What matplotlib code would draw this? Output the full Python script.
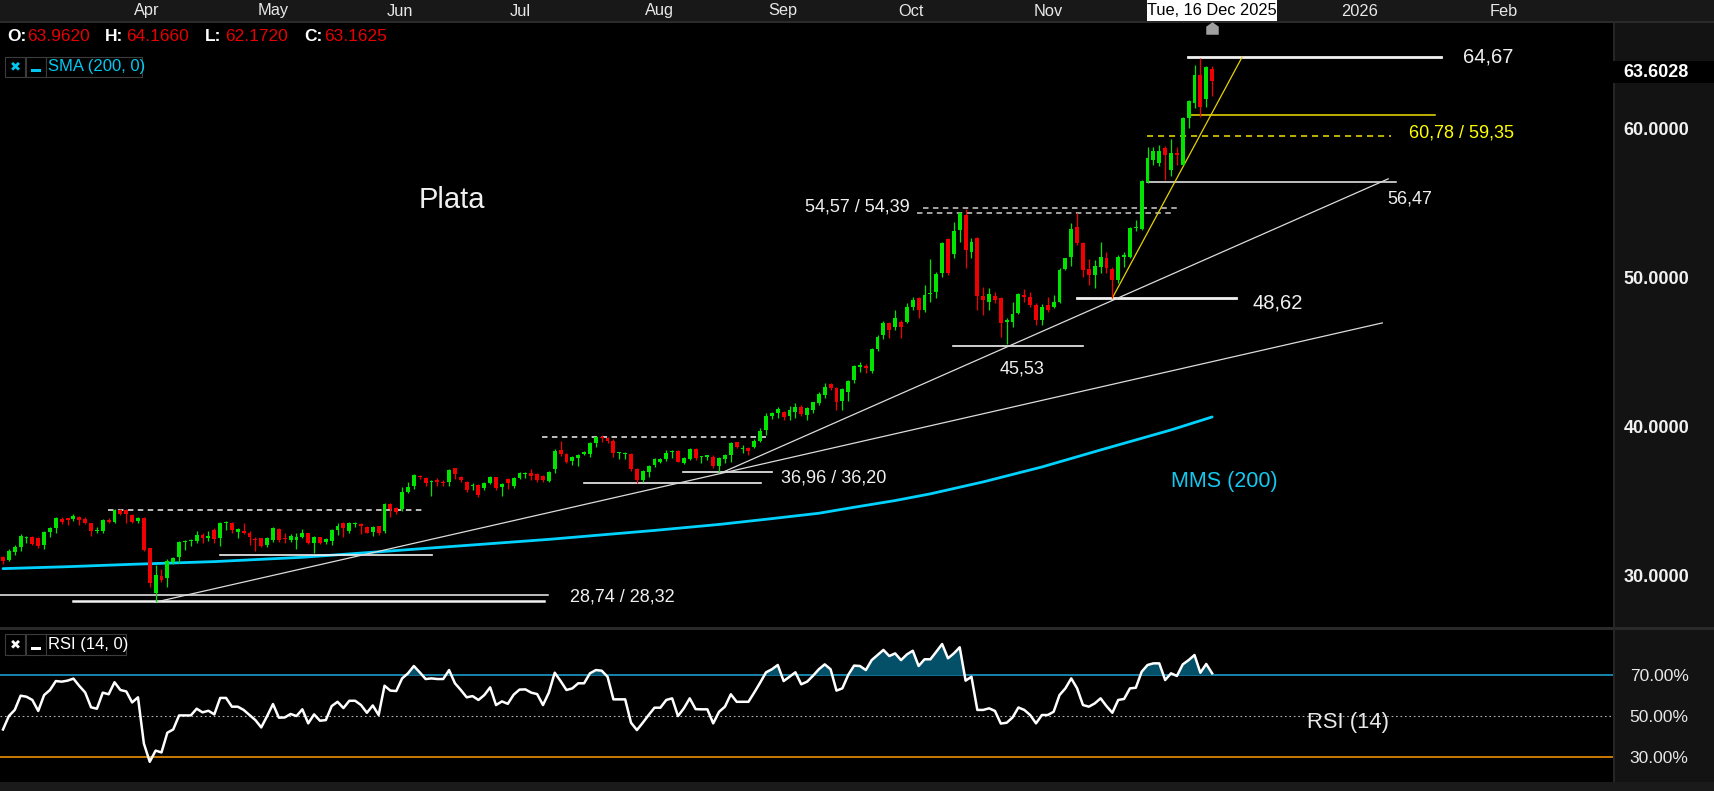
import numpy as np
import matplotlib
matplotlib.use('Agg')
import matplotlib.pyplot as plt
from matplotlib.patches import Rectangle
from matplotlib import transforms
from matplotlib.path import Path
from matplotlib.ticker import FixedLocator, FuncFormatter

plt.rcParams['font.family'] = ['Liberation Sans', 'DejaVu Sans']

W, H = 1715, 791

# ---------------- data (daily candles, last = Tue 16 Dec 2025) ----------------
opens = [31.25, 31.07, 31.63, 31.96, 32.52, 32.63, 32.54, 32.08, 32.95, 33.24,
         33.80, 33.86, 33.82, 33.97, 33.80, 33.53, 33.00, 33.00, 33.75, 33.64,
         34.42, 34.42, 34.09, 33.68, 33.90, 31.85, 28.88, 30.00, 29.85, 30.92,
         31.25, 32.30, 32.32, 32.34, 32.75, 32.52, 33.08, 32.52, 33.53, 33.57,
         32.95, 33.03, 32.90, 32.48, 32.52, 32.08, 32.41, 33.12, 32.57, 32.41,
         32.41, 32.63, 32.86, 32.23, 32.59, 32.30, 32.37, 33.08, 33.53, 33.00,
         33.46, 33.48, 33.30, 32.97, 33.35, 33.00, 34.82, 34.53, 34.49, 35.60,
         36.05, 36.72, 36.54, 36.30, 36.43, 36.32, 36.32, 37.21, 36.65, 36.32,
         36.03, 36.10, 35.87, 36.25, 36.61, 35.94, 36.50, 36.03, 36.59, 36.81,
         36.88, 36.81, 36.72, 36.39, 37.14, 38.44, 38.17, 37.70, 37.88, 38.17,
         38.17, 38.93, 39.33, 39.22, 39.06, 38.22, 38.17, 38.17, 37.14, 36.43,
         36.99, 37.43, 37.61, 37.82, 38.33, 38.39, 37.59, 37.84, 38.48, 37.95,
         38.00, 37.95, 37.37, 37.86, 38.10, 38.95, 38.50, 38.60, 38.66, 39.04,
         39.78, 40.74, 40.90, 41.01, 40.70, 41.00, 41.34, 40.80, 41.10, 41.57,
         42.12, 42.86, 42.57, 41.74, 42.30, 43.13, 44.02, 44.07, 43.75, 45.18,
         46.14, 46.92, 46.65, 47.03, 47.03, 48.04, 48.60, 47.82, 48.90, 49.04,
         50.27, 52.55, 51.57, 53.17, 54.18, 51.72, 52.62, 48.75, 48.37, 48.75,
         48.60, 47.03, 47.03, 47.59, 48.82, 48.71, 48.15, 47.15, 48.15, 47.99,
         48.33, 50.54, 51.39, 53.35, 52.28, 50.54, 50.16, 50.72, 51.28, 50.56,
         49.83, 51.39, 51.39, 53.29, 53.22, 56.41, 57.86, 57.68, 58.65, 57.19,
         58.35, 57.53, 60.70, 61.66, 63.56, 61.93, 63.962]
highs = [31.36, 31.79, 32.08, 32.79, 32.68, 32.68, 32.60, 33.00, 33.30, 33.97,
         33.97, 33.86, 34.15, 34.00, 33.93, 33.57, 33.26, 33.80, 33.86, 34.49,
         34.47, 34.47, 34.15, 33.97, 33.97, 31.90, 30.74, 30.45, 31.12, 31.30,
         32.37, 32.41, 32.45, 33.00, 32.90, 33.00, 33.19, 33.64, 33.65, 33.64,
         33.24, 33.53, 33.00, 32.63, 32.57, 32.63, 33.30, 33.19, 32.90, 32.81,
         32.86, 33.12, 32.90, 32.70, 32.63, 32.57, 33.15, 33.53, 33.64, 33.60,
         33.60, 33.53, 33.37, 33.37, 33.37, 34.87, 34.87, 34.60, 35.98, 36.27,
         36.83, 36.76, 36.60, 36.43, 36.54, 36.43, 37.17, 37.26, 36.70, 36.36,
         36.20, 36.14, 36.32, 36.72, 36.65, 36.20, 36.59, 36.65, 36.95, 36.95,
         37.17, 36.88, 36.77, 37.06, 38.48, 39.04, 38.26, 38.04, 38.17, 38.39,
         39.00, 39.38, 39.44, 39.29, 39.15, 38.30, 38.30, 38.22, 37.21, 37.10,
         37.43, 37.93, 37.93, 38.44, 38.44, 38.44, 38.00, 38.60, 38.60, 38.05,
         38.10, 38.10, 37.95, 38.17, 39.00, 39.00, 38.77, 38.66, 39.15, 39.94,
         40.90, 40.96, 41.34, 41.05, 41.41, 41.57, 41.45, 41.34, 41.68, 42.35,
         42.90, 42.95, 42.68, 42.57, 43.13, 44.13, 44.35, 44.20, 45.25, 46.14,
         47.08, 47.03, 47.82, 47.15, 48.26, 48.66, 48.71, 49.49, 51.23, 50.38,
         52.39, 52.62, 53.73, 54.40, 54.60, 52.66, 52.73, 49.38, 49.31, 49.04,
         48.71, 47.26, 48.37, 48.93, 49.22, 49.04, 48.26, 48.22, 48.71, 48.82,
         50.61, 51.32, 53.62, 54.29, 52.39, 51.21, 51.16, 52.39, 51.72, 50.70,
         51.50, 51.72, 53.40, 53.84, 56.52, 58.76, 58.76, 58.87, 58.80, 59.25,
         58.76, 60.76, 61.88, 64.23, 64.67, 64.16, 64.166]
lows = [30.80, 31.03, 31.41, 31.67, 32.23, 32.08, 31.90, 31.80, 32.63, 32.90,
        33.50, 33.40, 33.70, 33.40, 33.48, 32.70, 32.86, 32.86, 33.53, 33.53,
        34.06, 33.53, 33.53, 33.57, 31.67, 29.24, 28.24, 29.62, 29.28, 30.80,
        30.85, 31.74, 32.03, 32.19, 32.23, 32.34, 32.23, 32.01, 33.08, 32.86,
        32.52, 32.81, 32.08, 31.67, 31.92, 31.97, 32.30, 32.30, 32.19, 32.30,
        31.81, 32.52, 32.14, 31.56, 32.14, 32.14, 32.08, 32.75, 32.63, 32.86,
        33.30, 32.79, 32.86, 32.68, 32.75, 32.86, 33.97, 34.13, 34.38, 35.54,
        35.83, 36.50, 36.03, 35.36, 36.05, 36.05, 36.03, 36.50, 36.32, 35.65,
        35.76, 35.30, 35.76, 36.16, 35.76, 35.36, 35.80, 35.87, 36.50, 36.59,
        36.43, 36.32, 36.32, 36.32, 36.88, 38.06, 37.59, 37.43, 37.37, 38.10,
        37.95, 38.66, 39.00, 38.93, 37.99, 37.84, 37.84, 37.05, 36.20, 36.32,
        36.61, 37.28, 37.55, 37.73, 37.88, 37.60, 37.50, 37.77, 37.77, 37.59,
        37.77, 37.21, 36.99, 37.59, 37.66, 38.55, 38.22, 38.10, 38.55, 38.95,
        39.44, 40.49, 40.56, 40.45, 40.45, 40.56, 40.72, 40.45, 40.90, 41.45,
        41.90, 42.46, 41.12, 41.12, 41.72, 42.95, 43.69, 43.62, 43.62, 45.09,
        45.85, 45.92, 46.48, 45.92, 46.92, 47.82, 47.26, 47.70, 48.37, 48.64,
        50.05, 50.16, 51.28, 52.39, 50.61, 51.28, 47.82, 47.48, 47.82, 48.26,
        46.03, 45.53, 46.70, 47.55, 48.37, 48.04, 46.81, 46.81, 47.70, 47.93,
        48.26, 50.50, 50.76, 52.17, 50.05, 49.49, 49.31, 50.27, 50.27, 48.62,
        49.60, 50.72, 51.28, 53.10, 53.17, 56.30, 57.53, 57.46, 56.50, 56.79,
        57.53, 57.53, 60.03, 61.32, 60.76, 61.43, 62.172]
closes = [31.03, 31.67, 31.96, 32.68, 32.63, 32.14, 32.01, 32.95, 33.20, 33.90,
          33.64, 33.75, 34.04, 33.75, 33.57, 33.00, 33.10, 33.75, 33.64, 34.42,
          34.15, 34.15, 33.64, 33.90, 31.74, 29.55, 30.07, 29.73, 31.03, 31.20,
          32.30, 32.37, 32.40, 32.75, 32.57, 32.70, 32.45, 33.57, 33.60, 33.08,
          33.17, 32.86, 32.63, 32.41, 32.01, 32.52, 33.24, 32.41, 32.48, 32.68,
          32.63, 32.90, 32.19, 32.63, 32.23, 32.46, 33.08, 33.35, 33.19, 33.53,
          33.53, 33.35, 32.90, 33.30, 32.90, 34.80, 34.49, 34.31, 35.65, 35.98,
          36.76, 36.60, 36.20, 36.37, 36.27, 36.20, 37.10, 36.83, 36.43, 35.76,
          36.12, 35.43, 36.25, 36.65, 35.87, 36.14, 36.20, 36.59, 36.88, 36.88,
          36.72, 36.43, 36.43, 36.99, 38.40, 38.17, 37.66, 37.95, 38.10, 38.28,
          38.93, 39.29, 39.22, 39.04, 38.22, 38.28, 38.26, 37.14, 36.43, 37.05,
          37.37, 37.84, 37.86, 38.26, 38.39, 37.66, 37.93, 38.50, 37.88, 38.00,
          38.04, 37.37, 37.88, 38.10, 38.93, 38.66, 38.55, 38.40, 39.04, 39.71,
          40.72, 40.94, 41.18, 40.67, 41.10, 41.35, 40.85, 41.23, 41.63, 42.19,
          42.68, 42.57, 41.68, 42.50, 43.08, 44.07, 44.13, 43.91, 45.20, 46.03,
          46.92, 46.48, 47.30, 46.65, 47.99, 48.49, 47.82, 48.82, 48.98, 50.23,
          52.28, 50.27, 53.13, 54.29, 51.83, 52.39, 48.75, 48.49, 48.87, 48.49,
          46.92, 47.15, 47.55, 48.89, 48.66, 48.15, 47.15, 48.04, 47.82, 48.37,
          50.50, 51.28, 53.24, 52.28, 50.50, 50.16, 50.76, 51.39, 50.61, 49.80,
          51.39, 51.50, 53.29, 53.40, 56.48, 57.97, 58.46, 58.46, 58.20, 58.35,
          58.20, 60.70, 61.84, 63.56, 61.43, 64.11, 63.1625]

rsi = [43.4, 50.0, 53.0, 60.0, 59.5, 57.9, 52.5, 60.3, 62.8, 67.2,
       66.9, 67.4, 68.4, 64.8, 61.6, 54.3, 53.6, 61.5, 60.7, 66.6,
       62.8, 62.1, 56.7, 59.2, 36.5, 27.5, 33.0, 32.1, 41.8, 43.4,
       50.3, 50.3, 50.3, 53.6, 51.8, 52.6, 50.8, 58.9, 58.9, 54.6,
       54.6, 53.0, 50.5, 48.0, 44.4, 50.0, 55.9, 49.2, 49.3, 51.0,
       50.0, 53.3, 46.4, 50.8, 47.7, 48.0, 54.9, 57.0, 53.9, 57.5,
       57.5, 55.4, 51.6, 55.2, 50.5, 64.9, 62.5, 62.3, 68.5, 71.0,
       74.6, 71.5, 68.2, 68.5, 68.2, 68.2, 72.6, 66.1, 62.8, 59.2,
       59.8, 57.9, 60.3, 64.1, 55.4, 57.2, 56.0, 60.5, 63.0, 63.1,
       61.5, 60.8, 55.4, 61.5, 71.3, 67.2, 62.8, 63.6, 66.1, 66.1,
       71.0, 72.6, 72.3, 69.3, 58.2, 58.2, 58.2, 46.7, 43.1, 46.7,
       50.5, 54.1, 54.1, 57.9, 58.7, 50.0, 53.8, 58.7, 53.4, 53.3,
       53.3, 46.4, 52.1, 54.6, 60.7, 57.0, 57.0, 57.0, 61.6, 66.4,
       71.5, 73.0, 75.1, 67.2, 69.3, 71.5, 65.6, 66.9, 69.8, 73.0,
       75.4, 73.0, 62.5, 63.6, 70.2, 74.8, 74.6, 72.6, 77.5, 80.0,
       82.5, 79.5, 80.8, 77.5, 80.3, 82.1, 74.6, 77.9, 77.9, 81.6,
       85.4, 78.4, 80.8, 83.8, 67.4, 69.3, 53.0, 53.0, 53.8, 52.5,
       46.3, 46.7, 49.3, 54.2, 53.0, 50.5, 46.4, 50.5, 50.5, 52.1,
       60.3, 63.6, 68.5, 63.6, 55.4, 54.6, 56.2, 58.7, 54.9, 51.6,
       57.9, 58.4, 63.6, 63.9, 71.8, 75.1, 75.9, 75.9, 67.7, 71.0,
       69.7, 75.4, 77.5, 80.0, 71.3, 75.6, 71.0]

sma_idx = [0, 11, 22, 36, 51, 62, 76, 93, 111, 122, 131, 139, 145, 152, 158, 167, 177, 187, 199, 206]
sma_val = [30.49, 30.62, 30.78, 30.96, 31.25, 31.56, 31.96, 32.45, 33.05, 33.45, 33.84,
           34.20, 34.60, 35.05, 35.50, 36.30, 37.30, 38.44, 39.78, 40.65]

month_pos = [24.5, 46.0, 67.6, 88.1, 111.9, 132.9, 154.7, 178.0, 231.2, 255.7]
month_lbl = ['Apr', 'May', 'Jun', 'Jul', 'Aug', 'Sep', 'Oct', 'Nov', '2026', 'Feb']
price_ticks = [30, 40, 50, 60]
rsi_ticks = [30, 50, 70]
last_price = 63.6028

# ---------------- figure layout ----------------
fig = plt.figure(figsize=(W / 100, H / 100), dpi=100, facecolor='#131313')

def fb(y):
    return 1 - y / H

def frect(x0, y0, x1, y1, fc, ec='none', lw=0, z=5):
    fig.add_artist(Rectangle((x0 / W, fb(y1)), (x1 - x0) / W, (y1 - y0) / H,
                             transform=fig.transFigure, facecolor=fc,
                             edgecolor=ec, linewidth=lw, zorder=z))

ax = fig.add_axes([0, fb(627), 1613 / W, (627 - 23) / H])
axr = fig.add_axes([0, fb(782), 1613 / W, (782 - 630) / H])
for a in (ax, axr):
    a.set_facecolor('black')
    for s in a.spines.values():
        s.set_visible(False)
    a.set_xlim(-0.511, 274.3)
    a.set_xticks([])
ax.set_ylim(26.58, 67.04)
axr.set_ylim(17.57, 92.3)

# strips / separators (behind the axes)
frect(0, 0, W, 21, '#181818', z=-1)
frect(0, 21, W, 23, '#2a2a2a', z=-1)
frect(0, 627, W, 630, '#2a2a2a', z=-1)
frect(0, 782, W, H, '#1a1a1a', z=-1)
frect(1613, 23, 1615, 782, '#262626', z=-1)

# ---------------- candles ----------------
x = np.arange(len(closes))
o = np.array(opens); h = np.array(highs); l = np.array(lows); c = np.array(closes)
up = c >= o
cols = np.where(up, '#00e400', '#f00000')
ax.vlines(x, l, h, colors=cols, linewidth=0.9, zorder=4)
ax.bar(x, np.maximum(np.abs(c - o), 0.07), bottom=np.minimum(o, c), width=0.66,
       color=cols, linewidth=0, zorder=5)

# SMA 200
ax.plot(sma_idx, sma_val, color='#00d2ff', linewidth=2.0, zorder=3,
        solid_capstyle='round', solid_joinstyle='round')

# ---------------- drawings ----------------
wcol = '#f2f2f2'
ax.plot([-0.6, 92.8], [28.74, 28.74], color=wcol, lw=1.1, zorder=3)
ax.plot([11.9, 92.2], [28.32, 28.32], color=wcol, lw=1.8, zorder=3)
ax.plot([37.0, 73.1], [31.38, 31.38], color=wcol, lw=1.2, zorder=3)
ax.plot([17.9, 71.6], [34.45, 34.45], color=wcol, lw=1.1, ls=(0, (3.6, 2.9)), zorder=3)
ax.plot([91.8, 130.2], [39.33, 39.33], color=wcol, lw=1.1, ls=(0, (3.6, 2.9)), zorder=3)
ax.plot([99.0, 129.1], [36.21, 36.21], color=wcol, lw=1.2, zorder=3)
ax.plot([115.8, 131.0], [36.94, 36.94], color=wcol, lw=1.2, zorder=3)
ax.plot([156.7, 200.0], [54.62, 54.62], color='#cfcfcf', lw=1.1, ls=(0, (3.6, 2.9)), zorder=3)
ax.plot([155.7, 199.1], [54.30, 54.30], color='#cfcfcf', lw=1.1, ls=(0, (3.6, 2.9)), zorder=3)
ax.plot([161.8, 184.0], [45.40, 45.40], color=wcol, lw=1.2, zorder=3)
ax.plot([183.0, 210.0], [48.60, 48.60], color=wcol, lw=2.0, zorder=3)
ax.plot([194.9, 237.3], [56.40, 56.40], color=wcol, lw=1.1, zorder=3)
ax.plot([201.9, 245.0], [64.75, 64.75], color=wcol, lw=2.0, zorder=3)
ax.plot([201.9, 244.0], [60.85, 60.85], color='#f0e000', lw=1.1, zorder=3)
ax.plot([194.9, 236.5], [59.45, 59.45], color='#f0e000', lw=1.1, ls=(0, (4.0, 3.2)), zorder=3)
# trend lines
ax.plot([25.9, 235.0], [28.24, 46.95], color='#dcdcdc', lw=0.9, zorder=3)
ax.plot([122.7, 236.0], [36.96, 56.60], color='#dcdcdc', lw=0.9, zorder=3)
ax.plot([189.0, 211.1], [48.62, 64.75], color='#e6d200', lw=0.9, zorder=3)

# annotations
tc = '#f0f0f0'
ax.text(76.5, 55.18, 'Plata', color=tc, fontsize=21, ha='center', va='center')
ax.text(96.6, 28.62, '28,74 / 28,32', color=tc, fontsize=13, ha='left', va='center')
ax.text(132.5, 36.56, '36,96 / 36,20', color=tc, fontsize=13, ha='left', va='center')
ax.text(136.6, 54.74, '54,57 / 54,39', color=tc, fontsize=13, ha='left', va='center')
ax.text(173.6, 43.86, '45,53', color=tc, fontsize=13, ha='center', va='center')
ax.text(212.8, 48.27, '48,62', color=tc, fontsize=14.5, ha='left', va='center')
ax.text(235.8, 55.25, '56,47', color=tc, fontsize=13, ha='left', va='center')
ax.text(248.7, 64.78, '64,67', color=tc, fontsize=14.5, ha='left', va='center')
ax.text(239.5, 59.69, '60,78 / 59,35', color='#ffff00', fontsize=13, ha='left', va='center')
ax.text(199.0, 36.30, 'MMS (200)', color='#14c8f0', fontsize=15.5, ha='left', va='center')

# price axis on the right
ax.yaxis.tick_right()
ax.yaxis.set_major_locator(FixedLocator(price_ticks))
ax.yaxis.set_major_formatter(FuncFormatter(lambda v, p: f'{v:.4f}'))
ax.tick_params(axis='y', length=0, pad=7.5, labelcolor='#f2f2f2', labelsize=13)
for t in ax.get_yticklabels():
    t.set_fontweight('bold')

# last price box
frect(1613, 61, W, 83, 'black', z=6)
fig.text(1623 / W, fb(72.5), f'{last_price:.4f}', color='white', fontsize=13,
         fontweight='bold', ha='left', va='center', zorder=7)

# ---------------- time axis strip ----------------
trans = transforms.blended_transform_factory(ax.transData, fig.transFigure)
for p, s in zip(month_pos, month_lbl):
    fig.text(p, fb(11), s, transform=trans, color='#e8e8e8', fontsize=11.8,
             ha='center', va='center', zorder=9)
fig.add_artist(Rectangle((194.9, fb(21)), 22.2, 21 / H, transform=trans,
                         facecolor='white', edgecolor='none', zorder=8))
fig.text(206, fb(10.5), 'Tue, 16 Dec 2025', transform=trans, color='black',
         fontsize=11.8, ha='center', va='center', zorder=9)
house = Path([(-1, -1), (1, -1), (1, 0.3), (0, 1), (-1, 0.3), (-1, -1)],
             [Path.MOVETO, Path.LINETO, Path.LINETO, Path.LINETO, Path.LINETO, Path.CLOSEPOLY])
ax.plot([206], [66.68], marker=house, markersize=9, color='#a0a0a0',
        markeredgewidth=0, clip_on=False, zorder=9)

# ---------------- header ----------------
hy = fb(36.5)
red = '#e60000'
for lx, lab, vx, val in [(7, 'O:', 27, '63.9620'), (105, 'H:', 126, '64.1660'),
                         (205, 'L:', 225, '62.1720'), (304, 'C:', 324, '63.1625')]:
    fig.text(lx / W, hy, lab, color='white', fontsize=12.5, fontweight='bold',
             ha='left', va='center', zorder=7)
    fig.text(vx / W, hy, val, color=red, fontsize=12.5, ha='left', va='center', zorder=7)

# legend rows
def legend_row(y0, y1, x2, label, col):
    frect(5, y0, 25, y1, 'black', ec='#3c3c3c', lw=0.8, z=6)
    frect(26, y0, 46, y1, 'black', ec='#3c3c3c', lw=0.8, z=6)
    frect(46, y0, x2, y1, 'black', ec='#3c3c3c', lw=0.8, z=6)
    yc = (y0 + y1) / 2
    fig.text(15 / W, fb(yc), '\u2716', color=col, fontsize=9.5, family=['DejaVu Sans'],
             ha='center', va='center', zorder=7)
    frect(31, y1 - 8, 41, y1 - 5, col, z=7)
    fig.text(48 / W, fb(yc), label, color=col, fontsize=12, ha='left', va='center', zorder=7)

legend_row(57, 77, 142, 'SMA (200, 0)', '#00c8f0')
legend_row(634, 655, 126, 'RSI (14, 0)', 'white')

# ---------------- RSI panel ----------------
rx = np.arange(len(rsi))
rv = np.array(rsi)
axr.axhline(70, color='#1fa8dc', lw=1.1, zorder=2)
axr.axhline(30, color='#ff9a00', lw=1.1, zorder=2)
axr.axhline(50, color='#b0b0b0', lw=0.8, ls=(0, (1.5, 2.5)), zorder=2)
axr.fill_between(rx, rv, 70, where=rv > 70, interpolate=True, color='#045068',
                 linewidth=0, zorder=3)
axr.plot(rx, rv, color='white', lw=1.8, zorder=4)
axr.text(222.1, 46.7, 'RSI (14)', color='#e8e8e8', fontsize=15.8, ha='left', va='center')
axr.yaxis.tick_right()
axr.yaxis.set_major_locator(FixedLocator(rsi_ticks))
axr.yaxis.set_major_formatter(FuncFormatter(lambda v, p: f'{v:.2f}%'))
axr.tick_params(axis='y', length=0, pad=12, labelcolor='#e8e8e8', labelsize=12.5)

fig.savefig('out.png', dpi=100, facecolor=fig.get_facecolor())
